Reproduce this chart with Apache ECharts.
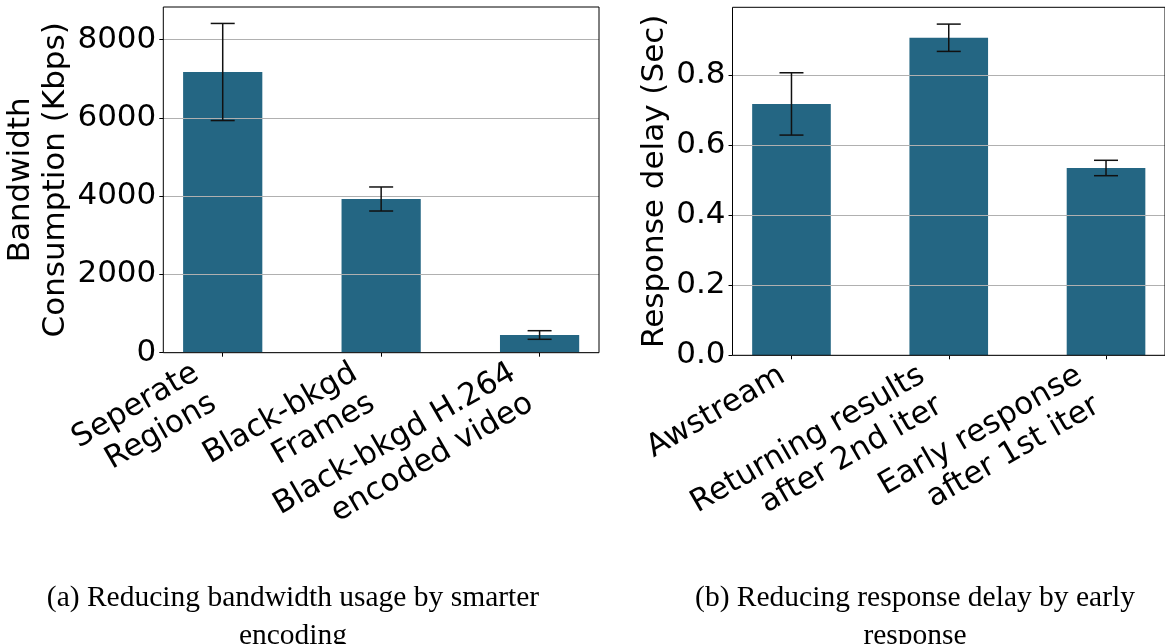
<!DOCTYPE html>
<html>
<head>
<meta charset="utf-8">
<script src="https://cdn.jsdelivr.net/npm/echarts@6/dist/echarts.min.js"></script>
<style>
  html, body { margin: 0; padding: 0; background: #fff; }
  #chart { width: 1165px; height: 644px; }
</style>
</head>
<body>
<div id="chart"></div>
<script>
// Bandwidth panel
const bwCategories = ['Seperate\nRegions', 'Black-bkgd\nFrames', 'Black-bkgd H.264\nencoded video'];
const bwMean = [7170, 3926, 452];
const bwErr = [1240, 307, 110];
const bwTicks = [0, 2000, 4000, 6000, 8000];

// Response delay panel
const delayCategories = ['Awstream', 'Returning results\nafter 2nd iter', 'Early response\nafter 1st iter'];
const delayMean = [0.718, 0.907, 0.535];
const delayErr = [0.089, 0.039, 0.022];
const delayTicks = [0, 0.2, 0.4, 0.6, 0.8];

const captions = [
  '(a) Reducing bandwidth usage by smarter\nencoding',
  '(b) Reducing response delay by early\nresponse'
];

const BAR_COLOR = '#246683';
const FONT = 'DejaVu Sans';
const FONT_SIZE = 31;
const LINE_H = 35;

// bar of width 0.5 category units, drawn from the axis scale
function renderBar(params, api) {
  const x = api.value(0), y = api.value(1);
  const base = api.coord([x, 0]);
  const top = api.coord([x, y]);
  const w = api.size([0.5, 0])[0];
  return {
    type: 'rect',
    shape: { x: base[0] - w / 2, y: top[1], width: w, height: base[1] - top[1] },
    style: { fill: BAR_COLOR }
  };
}

// vertical error bar with caps
function renderErr(params, api) {
  const x = api.value(0), lo = api.value(1), hi = api.value(2);
  const a = api.coord([x, lo]), b = api.coord([x, hi]);
  const cap = 12;
  const style = { stroke: '#111', lineWidth: 1.5 };
  return {
    type: 'group',
    children: [
      { type: 'line', shape: { x1: a[0], y1: a[1], x2: b[0], y2: b[1] }, style },
      { type: 'line', shape: { x1: a[0] - cap, y1: a[1], x2: a[0] + cap, y2: a[1] }, style },
      { type: 'line', shape: { x1: b[0] - cap, y1: b[1], x2: b[0] + cap, y2: b[1] }, style }
    ]
  };
}

// rotated category labels: the rotated block's right edge sits at the tick,
// its top just below the axis
function labelRenderer(names) {
  return function (params, api) {
    const i = api.value(0);
    const p = api.coord([i, 0]);
    const text = names[params.dataIndex];
    const n = text.split('\n').length;
    const h = 30.4 + LINE_H * (n - 1);
    return {
      type: 'text',
      x: p[0],
      y: p[1] + 7 + 0.866 * h,
      rotation: Math.PI / 6,
      style: {
        text: text,
        align: 'right',
        verticalAlign: 'bottom',
        fontFamily: FONT,
        fontSize: FONT_SIZE,
        lineHeight: LINE_H,
        fill: '#000'
      }
    };
  };
}

function xAxisFor(gridIndex) {
  return {
    type: 'value',
    gridIndex: gridIndex,
    min: -0.375,
    max: 2.375,
    axisLine: { show: false, onZero: false },
    axisTick: { show: true, customValues: [0, 1, 2], length: 4, lineStyle: { color: '#000', width: 1 } },
    axisLabel: { show: false },
    splitLine: { show: false }
  };
}

function yAxisFor(gridIndex, max, interval, ticks, name, nameGap, fmt) {
  return {
    type: 'value',
    gridIndex: gridIndex,
    min: 0,
    max: max,
    interval: interval,
    z: 3,
    name: name,
    nameLocation: 'middle',
    nameGap: nameGap,
    nameTextStyle: {
      fontFamily: FONT, fontSize: FONT_SIZE, lineHeight: LINE_H, color: '#000',
      align: 'center', verticalAlign: 'middle'
    },
    axisLine: { show: false, onZero: false },
    axisTick: { show: true, customValues: ticks, length: 4, lineStyle: { color: '#000', width: 1 } },
    axisLabel: {
      customValues: ticks, margin: 7,
      fontFamily: FONT, fontSize: FONT_SIZE, color: '#000', formatter: fmt
    },
    splitLine: { show: true, lineStyle: { color: '#b0b0b0', width: 1 } }
  };
}

const chart = echarts.init(document.getElementById('chart'), null, { renderer: 'canvas' });

chart.setOption({
  animation: false,
  backgroundColor: '#fff',
  title: [
    {
      text: captions[0], left: 293, top: 579, textAlign: 'center', padding: 0,
      textStyle: { fontFamily: 'Liberation Serif', fontSize: 29.5, fontWeight: 'normal', lineHeight: 38, color: '#000' }
    },
    {
      text: captions[1], left: 915, top: 579, textAlign: 'center', padding: 0,
      textStyle: { fontFamily: 'Liberation Serif', fontSize: 29.5, fontWeight: 'normal', lineHeight: 38, color: '#000' }
    }
  ],
  grid: [
    { left: 163.3, top: 7, width: 435.7, height: 345.7, show: true, z: 5, borderColor: '#000', borderWidth: 1, backgroundColor: 'transparent' },
    { left: 732.5, top: 7.3, width: 436.3, height: 348, show: true, z: 5, borderColor: '#000', borderWidth: 1, backgroundColor: 'transparent' }
  ],
  xAxis: [xAxisFor(0), xAxisFor(1)],
  yAxis: [
    yAxisFor(0, 8830, 2000, bwTicks, 'Bandwidth\nConsumption (Kbps)', 116.5, v => String(v)),
    yAxisFor(1, 0.994, 0.2, delayTicks, 'Response delay (Sec)', 65, v => v.toFixed(1))
  ],
  series: [
    {
      type: 'custom', xAxisIndex: 0, yAxisIndex: 0, z: 2,
      renderItem: renderBar,
      data: bwMean.map((m, i) => [i, m])
    },
    {
      type: 'custom', xAxisIndex: 0, yAxisIndex: 0, z: 4,
      renderItem: renderErr,
      data: bwMean.map((m, i) => [i, m - bwErr[i], m + bwErr[i]])
    },
    {
      type: 'custom', xAxisIndex: 0, yAxisIndex: 0, z: 4, clip: false,
      renderItem: labelRenderer(bwCategories),
      data: bwCategories.map((c, i) => [i, 0])
    },
    {
      type: 'custom', xAxisIndex: 1, yAxisIndex: 1, z: 2,
      renderItem: renderBar,
      data: delayMean.map((m, i) => [i, m])
    },
    {
      type: 'custom', xAxisIndex: 1, yAxisIndex: 1, z: 4,
      renderItem: renderErr,
      data: delayMean.map((m, i) => [i, m - delayErr[i], m + delayErr[i]])
    },
    {
      type: 'custom', xAxisIndex: 1, yAxisIndex: 1, z: 4, clip: false,
      renderItem: labelRenderer(delayCategories),
      data: delayCategories.map((c, i) => [i, 0])
    }
  ]
});
</script>
</body>
</html>
